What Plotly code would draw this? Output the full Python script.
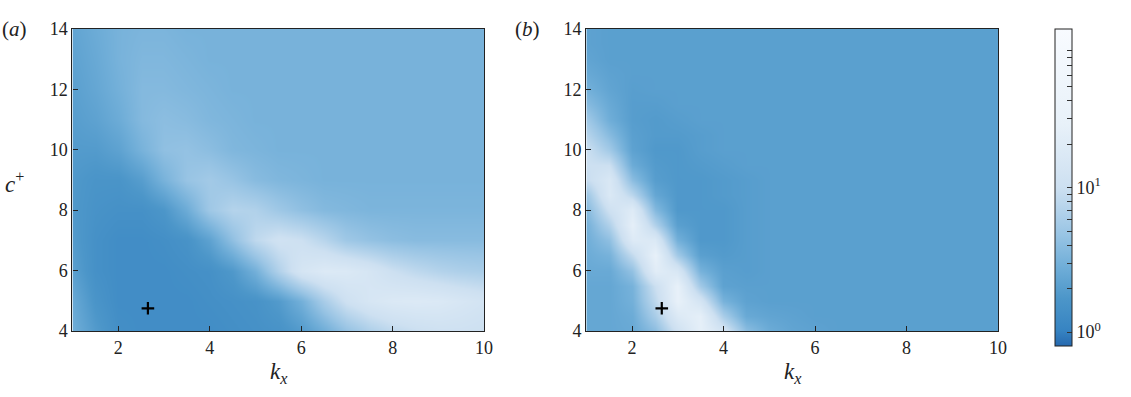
import numpy as np
import plotly.graph_objects as go

# ---------------- data ----------------
kx = [1.0, 1.5, 2.0, 2.5, 3.0, 3.5, 4.0, 4.5, 5.0, 5.5, 6.0, 6.5, 7.0, 7.5, 8.0, 8.5, 9.0, 9.5, 10.0]
cplus_a = [4, 5, 6, 7, 8, 9, 10, 11, 12, 13, 14]
cplus_b = [4.0, 4.5, 5.0, 5.5, 6.0, 6.5, 7.0, 7.5, 8.0, 8.5, 9.0, 9.5, 10.0,
           10.5, 11.0, 11.5, 12.0, 12.5, 13.0, 13.5, 14.0]

# panel (a) amplification, rows c+ = 4 ... 14, columns kx = 1 ... 10
amp_a = [
    [2.83, 1.89, 1.40, 1.33, 1.33, 1.33, 1.33, 1.40, 1.47, 1.55, 1.89, 2.83, 4.47, 6.37, 8.20, 9.55, 10.6, 10.6, 10.0],
    [2.56, 1.63, 1.33, 1.33, 1.33, 1.33, 1.40, 1.47, 1.55, 1.89, 2.98, 6.05, 10.6, 14.3, 16.7, 17.5, 16.7, 14.3, 12.3],
    [2.09, 1.47, 1.33, 1.33, 1.33, 1.40, 1.47, 1.80, 2.98, 6.70, 13.6, 17.5, 16.7, 13.6, 10.0, 8.20, 7.05, 6.37, 6.05],
    [1.89, 1.47, 1.33, 1.33, 1.40, 1.55, 2.20, 4.25, 8.20, 11.1, 10.0, 7.41, 5.20, 4.47, 4.04, 3.84, 3.84, 3.84, 3.84],
    [1.80, 1.55, 1.47, 1.47, 1.71, 2.69, 5.20, 7.05, 6.70, 5.20, 4.25, 3.65, 3.47, 3.30, 3.30, 3.30, 3.30, 3.30, 3.30],
    [1.80, 1.63, 1.63, 1.99, 3.13, 4.70, 5.47, 4.70, 3.84, 3.47, 3.30, 3.13, 3.13, 3.13, 3.13, 3.13, 3.13, 3.13, 3.13],
    [1.89, 1.89, 2.20, 3.13, 4.25, 4.47, 4.04, 3.47, 3.30, 3.13, 3.13, 3.13, 3.13, 3.13, 3.13, 3.13, 3.13, 3.13, 3.13],
    [1.99, 2.20, 2.69, 3.65, 4.04, 3.84, 3.47, 3.30, 3.13, 3.13, 3.13, 3.13, 3.13, 3.13, 3.13, 3.13, 3.13, 3.13, 3.13],
    [2.09, 2.43, 2.98, 3.65, 3.65, 3.47, 3.30, 3.13, 3.13, 3.13, 3.13, 3.13, 3.13, 3.13, 3.13, 3.13, 3.13, 3.13, 3.13],
    [2.20, 2.56, 3.13, 3.47, 3.47, 3.30, 3.13, 3.13, 3.13, 3.13, 3.13, 3.13, 3.13, 3.13, 3.13, 3.13, 3.13, 3.13, 3.13],
    [2.31, 2.69, 3.13, 3.30, 3.30, 3.13, 3.13, 3.13, 3.13, 3.13, 3.13, 3.13, 3.13, 3.13, 3.13, 3.13, 3.13, 3.13, 3.13],
]

# panel (b) amplification, rows c+ = 4 ... 14 (step 0.5), columns kx = 1 ... 10
amp_b = [
    [2.43, 2.43, 2.56, 4.04, 11.1, 24.9, 12.9, 4.04, 2.69, 2.31, 2.20, 2.09, 2.09, 2.09, 2.09, 2.09, 2.09, 2.09, 2.09],
    [2.43, 2.43, 2.69, 6.05, 17.5, 24.9, 6.05, 2.56, 2.31, 2.20, 2.09, 2.09, 2.09, 2.09, 2.09, 2.09, 2.09, 2.09, 2.09],
    [2.43, 2.43, 2.98, 8.20, 27.7, 12.9, 3.13, 2.20, 2.09, 2.09, 2.09, 2.09, 2.09, 2.09, 2.09, 2.09, 2.09, 2.09, 2.09],
    [2.43, 2.43, 3.13, 10.0, 27.7, 5.47, 2.20, 2.09, 2.09, 2.09, 2.09, 2.09, 2.09, 2.09, 2.09, 2.09, 2.09, 2.09, 2.09],
    [2.56, 2.56, 4.47, 21.4, 15.0, 3.13, 2.09, 1.99, 2.09, 2.09, 2.09, 2.09, 2.09, 2.09, 2.09, 2.09, 2.09, 2.09, 2.09],
    [2.69, 3.13, 8.63, 27.7, 5.47, 2.09, 1.89, 1.99, 2.09, 2.09, 2.09, 2.09, 2.09, 2.09, 2.09, 2.09, 2.09, 2.09, 2.09],
    [2.83, 4.25, 18.4, 16.7, 2.98, 1.80, 1.80, 1.99, 2.09, 2.09, 2.09, 2.09, 2.09, 2.09, 2.09, 2.09, 2.09, 2.09, 2.09],
    [2.98, 6.70, 24.9, 6.70, 2.09, 1.80, 1.80, 1.99, 2.09, 2.09, 2.09, 2.09, 2.09, 2.09, 2.09, 2.09, 2.09, 2.09, 2.09],
    [3.65, 10.6, 19.4, 3.65, 1.80, 1.80, 1.80, 1.99, 2.09, 2.09, 2.09, 2.09, 2.09, 2.09, 2.09, 2.09, 2.09, 2.09, 2.09],
    [4.94, 16.7, 7.80, 2.43, 1.80, 1.80, 1.89, 1.99, 2.09, 2.09, 2.09, 2.09, 2.09, 2.09, 2.09, 2.09, 2.09, 2.09, 2.09],
    [9.08, 15.8, 4.04, 1.99, 1.80, 1.80, 1.89, 1.99, 2.09, 2.09, 2.09, 2.09, 2.09, 2.09, 2.09, 2.09, 2.09, 2.09, 2.09],
    [10.0, 10.0, 2.69, 1.89, 1.80, 1.89, 1.99, 2.09, 2.09, 2.09, 2.09, 2.09, 2.09, 2.09, 2.09, 2.09, 2.09, 2.09, 2.09],
    [10.0, 5.47, 2.20, 1.80, 1.80, 1.99, 2.09, 2.09, 2.09, 2.09, 2.09, 2.09, 2.09, 2.09, 2.09, 2.09, 2.09, 2.09, 2.09],
    [7.41, 3.84, 2.09, 1.89, 1.89, 1.99, 2.09, 2.09, 2.09, 2.09, 2.09, 2.09, 2.09, 2.09, 2.09, 2.09, 2.09, 2.09, 2.09],
    [5.47, 2.83, 1.99, 1.89, 1.99, 2.09, 2.09, 2.09, 2.09, 2.09, 2.09, 2.09, 2.09, 2.09, 2.09, 2.09, 2.09, 2.09, 2.09],
    [3.84, 2.56, 1.99, 1.99, 2.09, 2.09, 2.09, 2.09, 2.09, 2.09, 2.09, 2.09, 2.09, 2.09, 2.09, 2.09, 2.09, 2.09, 2.09],
    [2.98, 2.31, 2.04, 2.09, 2.09, 2.09, 2.09, 2.09, 2.09, 2.09, 2.09, 2.09, 2.09, 2.09, 2.09, 2.09, 2.09, 2.09, 2.09],
    [2.56, 2.20, 2.09, 2.09, 2.09, 2.09, 2.09, 2.09, 2.09, 2.09, 2.09, 2.09, 2.09, 2.09, 2.09, 2.09, 2.09, 2.09, 2.09],
    [2.31, 2.09, 2.09, 2.09, 2.09, 2.09, 2.09, 2.09, 2.09, 2.09, 2.09, 2.09, 2.09, 2.09, 2.09, 2.09, 2.09, 2.09, 2.09],
    [2.20, 2.09, 2.09, 2.09, 2.09, 2.09, 2.09, 2.09, 2.09, 2.09, 2.09, 2.09, 2.09, 2.09, 2.09, 2.09, 2.09, 2.09, 2.09],
    [2.20, 2.09, 2.09, 2.09, 2.09, 2.09, 2.09, 2.09, 2.09, 2.09, 2.09, 2.09, 2.09, 2.09, 2.09, 2.09, 2.09, 2.09, 2.09],
]

marker_kx = [2.65]
marker_c = [4.75]

x_ticks = [2, 4, 6, 8, 10]
y_ticks = [4, 6, 8, 10, 12, 14]
cbar_values = [1, 2, 3, 4, 5, 6, 7, 8, 9, 10, 20, 30, 40, 50, 60, 70, 80, 90]
cbar_labels = ["10<sup>0</sup>", "", "", "", "", "", "", "", "",
               "10<sup>1</sup>", "", "", "", "", "", "", "", ""]
color_min, color_max = 0.8, 126.0

# ---------------- styling ----------------
W, H = 1131, 397
FONT = "Liberation Serif, Times New Roman, serif"
ZMIN, ZMAX = np.log10(color_min), np.log10(color_max)

colorscale = [
    [0.00, "rgb(38,105,175)"],
    [0.05, "rgb(55,132,194)"],
    [0.15, "rgb(76,150,201)"],
    [0.25, "rgb(112,174,216)"],
    [0.35, "rgb(152,196,228)"],
    [0.50, "rgb(205,224,241)"],
    [0.70, "rgb(232,241,249)"],
    [1.00, "rgb(248,251,255)"],
]

fig = go.Figure()
for amp, cgrid, xa, ya, show in [(amp_a, cplus_a, "x", "y", False),
                                 (amp_b, cplus_b, "x2", "y2", True)]:
    fig.add_trace(go.Heatmap(
        x=kx, y=cgrid, z=np.log10(np.array(amp)),
        zmin=ZMIN, zmax=ZMAX, colorscale=colorscale, zsmooth="best",
        xaxis=xa, yaxis=ya, showscale=show,
        colorbar=dict(
            thickness=17, thicknessmode="pixels",
            len=317, lenmode="pixels",
            x=1063 / W, xanchor="left", xpad=0,
            y=(H - 20) / H, yanchor="top", ypad=0,
            outlinewidth=1, outlinecolor="#222",
            ticks="inside", ticklen=5, tickcolor="#333", tickwidth=1,
            tickvals=list(np.log10(cbar_values)), ticktext=cbar_labels,
            tickfont=dict(family=FONT, size=18, color="#222"),
        ),
    ))
    fig.add_trace(go.Scatter(
        x=marker_kx, y=marker_c, mode="markers", xaxis=xa, yaxis=ya,
        marker=dict(symbol="cross-thin", size=9, line=dict(width=2.2, color="black")),
        showlegend=False,
    ))

axis_common = dict(
    showgrid=False, zeroline=False, showline=True, linecolor="#222", linewidth=1.2,
    mirror=True, ticks="inside", ticklen=5, tickcolor="#222", tickwidth=1,
    tickfont=dict(family=FONT, size=18, color="#222"),
)
y0 = (H - 338) / H
y1 = (H - 20) / H
fig.update_layout(
    width=W, height=H,
    margin=dict(l=0, r=0, t=0, b=0),
    paper_bgcolor="white", plot_bgcolor="white",
    showlegend=False,
    xaxis=dict(domain=[73 / W, 488 / W], range=[1, 10], tickvals=x_ticks, anchor="y", **axis_common),
    yaxis=dict(domain=[y0, y1], range=[4, 14], tickvals=y_ticks, anchor="x", **axis_common),
    xaxis2=dict(domain=[591 / W, 1006 / W], range=[1, 10], tickvals=x_ticks, anchor="y2", **axis_common),
    yaxis2=dict(domain=[y0, y1], range=[4, 14], tickvals=y_ticks, anchor="x2", **axis_common),
)

annotations = [
    dict(text="(<i>a</i>)", x=15 / W, y=(H - 20) / H, size=21),
    dict(text="(<i>b</i>)", x=532 / W, y=(H - 20) / H, size=21),
    dict(text="<i>c</i><sup>+</sup>", x=15 / W, y=(H - 182) / H, size=23),
    dict(text="<i>k</i><sub><i>x</i></sub>", x=281 / W, y=(H - 382) / H, size=23),
    dict(text="<i>k</i><sub><i>x</i></sub>", x=799 / W, y=(H - 382) / H, size=23),
]
for a in annotations:
    size = a.pop("size")
    fig.add_annotation(xref="paper", yref="paper", showarrow=False,
                       xanchor="center", yanchor="middle",
                       font=dict(family=FONT, size=size, color="#222"), **a)

fig.write_html("out.html")
